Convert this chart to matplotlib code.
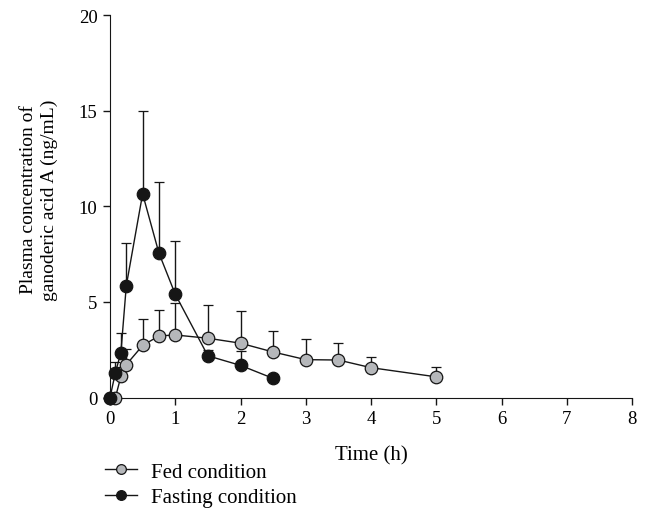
import matplotlib.pyplot as plt
from matplotlib.lines import Line2D
import numpy as np

plt.rcParams['font.family'] = ['Liberation Serif', 'DejaVu Serif']

# fed condition (grey)
fed_t = [0, 0.083, 0.167, 0.25, 0.5, 0.75, 1, 1.5, 2, 2.5, 3, 3.5, 4, 5]
fed_mean = [0, 0, 1.1, 1.72, 2.72, 3.22, 3.27, 3.1, 2.84, 2.38, 1.98, 1.96, 1.56, 1.08]
fed_sd = [0, 0, 0.5, 0.81, 1.38, 1.35, 1.65, 1.75, 1.69, 1.11, 1.07, 0.88, 0.57, 0.51]

# fasting condition (black)
fast_t = [0, 0.083, 0.167, 0.25, 0.5, 0.75, 1, 1.5, 2, 2.5]
fast_mean = [0, 1.3, 2.35, 5.85, 10.65, 7.55, 5.4, 2.18, 1.68, 1.0]
fast_sd = [0, 0.58, 1.02, 2.23, 4.33, 3.72, 2.77, 0.3, 0.77, 0.15]

grey = '#b5b7ba'
dark = '#161616'

fig = plt.figure(figsize=(6.47, 5.10), dpi=100)
ax = fig.add_axes([0.17, 0.2186, 0.807, 0.75])

ax.errorbar(fed_t, fed_mean, yerr=[np.zeros(len(fed_sd)), fed_sd],
            color=dark, lw=1.0, marker='o', ms=9, mfc=grey,
            mec=dark, mew=0.9, capsize=3.5, elinewidth=1.0,
            capthick=1.0, ecolor=dark, zorder=3, clip_on=False)
ax.errorbar(fast_t, fast_mean, yerr=[np.zeros(len(fast_sd)), fast_sd],
            color=dark, lw=1.0, marker='o', ms=9, mfc=dark,
            mec=dark, mew=0.9, capsize=3.5, elinewidth=1.0,
            capthick=1.0, ecolor=dark, zorder=4, clip_on=False)

ax.set_xlim(0, 8)
ax.set_ylim(0, 20)
ax.set_xticks(range(0, 9))
ax.set_yticks([0, 5, 10, 15, 20])
ax.spines['top'].set_visible(False)
ax.spines['right'].set_visible(False)
ax.spines['left'].set_color(dark)
ax.spines['bottom'].set_color(dark)
ax.tick_params(direction='out', length=5, width=1, labelsize=13.5, pad=4,
               color=dark)
ax.set_xlabel('Time (h)', fontsize=15, labelpad=13)
ax.set_ylabel('Plasma concentration of\nganoderic acid A (ng/mL)', fontsize=14,
              linespacing=1.25)
ax.yaxis.set_label_coords(-0.1, 0.519)

handles = [
    Line2D([], [], color=dark, lw=1.0, marker='o', ms=7, mfc=grey, mec=dark, mew=0.9),
    Line2D([], [], color=dark, lw=1.0, marker='o', ms=7, mfc=dark, mec=dark, mew=0.9),
]
fig.legend(handles, ['Fed condition', 'Fasting condition'], loc='center left',
           bbox_to_anchor=(0.163, 0.048), frameon=False, fontsize=15,
           handlelength=1.5, handletextpad=0.7, labelspacing=0.28,
           borderpad=0, borderaxespad=0)

fig.savefig('out.png', dpi=100)
